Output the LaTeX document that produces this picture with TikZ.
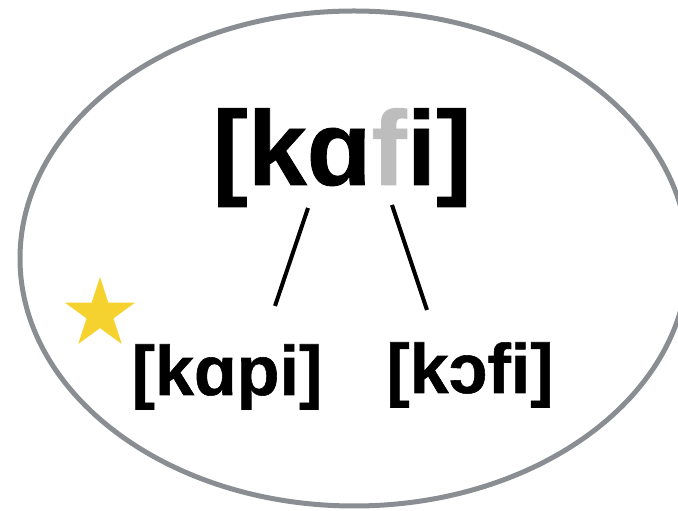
\documentclass[tikz,border=0pt]{standalone}
\usepackage{fontspec}
\setmainfont{Liberation Sans}[BoldFeatures={FakeBold=0.8}]
\usepackage{xcolor}
\usetikzlibrary{shapes.geometric}
\definecolor{rimgray}{HTML}{8A8D91}
\definecolor{softgray}{HTML}{BDBDBD}
\definecolor{staryellow}{HTML}{F5D22E}

\tikzset{
  form/.style={anchor=base, inner sep=0pt, font=\bfseries\fontsize{70}{70}\selectfont},
  bigform/.style={anchor=base, inner sep=0pt, font=\bfseries\fontsize{106}{106}\selectfont},
  branch/.style={line width=4pt}
}

\begin{document}
\begin{tikzpicture}[x=1pt,y=1pt]
\useasboundingbox (0,0) rectangle (678,511);

\draw[rimgray, line width=5pt] (354,252.5) ellipse (334 and 247.5);

\node[bigform] (kafi) at (342,326) {[kɑ\textcolor{softgray}{f}i]};
\node[form] (kapi) at (227,116) {[kɑpi]};
\node[form] (kofi) at (470,118) {[kɔfi]};

\node[star, star points=5, star point ratio=2.618, fill=staryellow,
      inner sep=0pt, minimum size=74pt] (mark) at (100,197) {};

% branch ends
\coordinate (kafi-l) at (308,303);
\coordinate (kafi-r) at (392,306);
\coordinate (kapi-t) at (275,205);
\coordinate (kofi-t) at (427,201);

\draw[branch] (kafi-l)--(kapi-t);
\draw[branch] (kafi-r)--(kofi-t);
\end{tikzpicture}
\end{document}
